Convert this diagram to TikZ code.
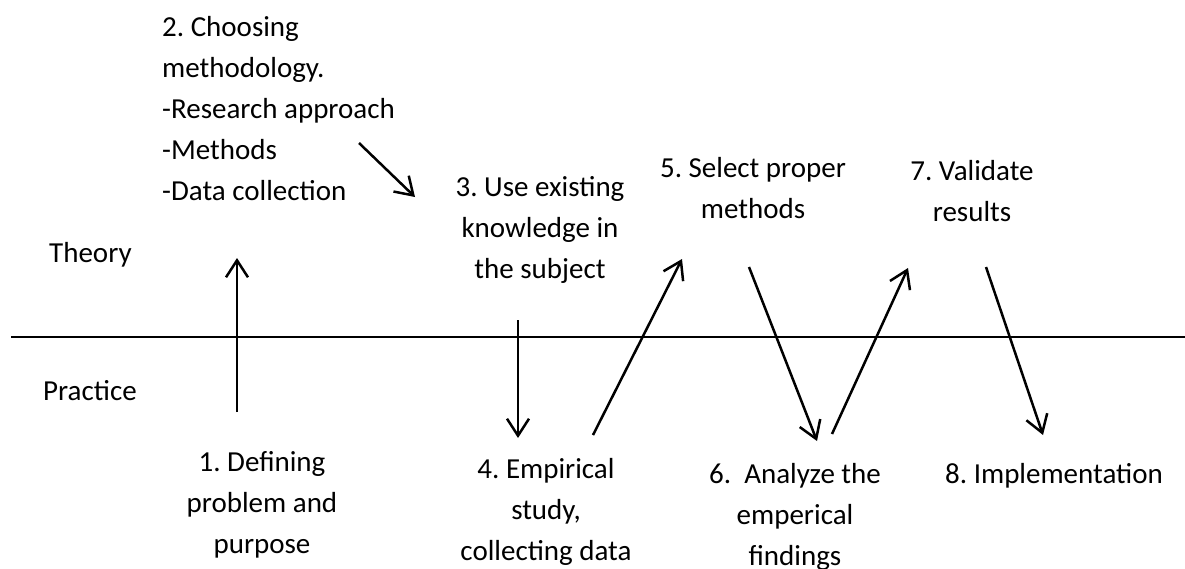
\documentclass[tikz,border=0pt]{standalone}
\usepackage{fontspec}
\setmainfont{Carlito}
\usetikzlibrary{arrows.meta}
\frenchspacing
\begin{document}
\begin{tikzpicture}[x=1pt,y=-1pt,
  lbl/.style={inner sep=0pt, anchor=base, align=center,
              font=\fontsize{29}{41}\selectfont},
  side/.style={lbl, anchor=base west, align=left},
  axis/.style={line width=2pt},
  flow/.style={line width=2.5pt,
    -{Straight Barb[length=17pt,width=22pt,line width=2.5pt]}}]
\useasboundingbox (0,0) rectangle (1185,568);

% divider between theory and practice
\coordinate (axisL) at (11,337);
\coordinate (axisR) at (1185,337);
\draw[axis] (axisL) -- (axisR);

% level captions
\node[side] (theory)   at (49,262)  {Theory};
\node[side] (practice) at (43,400)  {Practice};

% steps of the research process (placed by the baseline of their last line)
\node[side] (s2) at (162,200) {2. Choosing\\methodology.\\-Research approach\\-Methods\\-Data collection};
\node[lbl] (s3) at (540,278) {3. Use existing\\knowledge in\\the subject};
\node[lbl] (s5) at (753,218) {5. Select proper\\methods};
\node[lbl] (s7) at (972,221) {7. Validate\\results};
\node[lbl] (s1) at (262,553) {1. Defining\\problem and\\purpose};
\node[lbl] (s4) at (546,560) {4. Empirical\\study,\\collecting data};
\node[lbl] (s6) at (795,565) {6.~~Analyze the\\emperical\\findings};
\node[lbl] (s8) at (1054,483) {8. Implementation};

% arrow end points
\coordinate (a1s) at (237,412);  \coordinate (a1e) at (237,258);
\coordinate (a2s) at (359,143);  \coordinate (a2e) at (415,197);
\coordinate (a3s) at (518,320);  \coordinate (a3e) at (518,438);
\coordinate (a4s) at (593,435);  \coordinate (a4e) at (682,259);
\coordinate (a5s) at (749,267);  \coordinate (a5e) at (817,441);
\coordinate (a6s) at (832,434);  \coordinate (a6e) at (908,268);
\coordinate (a7s) at (986,267);  \coordinate (a7e) at (1043,435);

\draw[flow] (a1s) -- (a1e);
\draw[flow] (a2s) -- (a2e);
\draw[flow] (a3s) -- (a3e);
\draw[flow] (a4s) -- (a4e);
\draw[flow] (a5s) -- (a5e);
\draw[flow] (a6s) -- (a6e);
\draw[flow] (a7s) -- (a7e);
\end{tikzpicture}
\end{document}
